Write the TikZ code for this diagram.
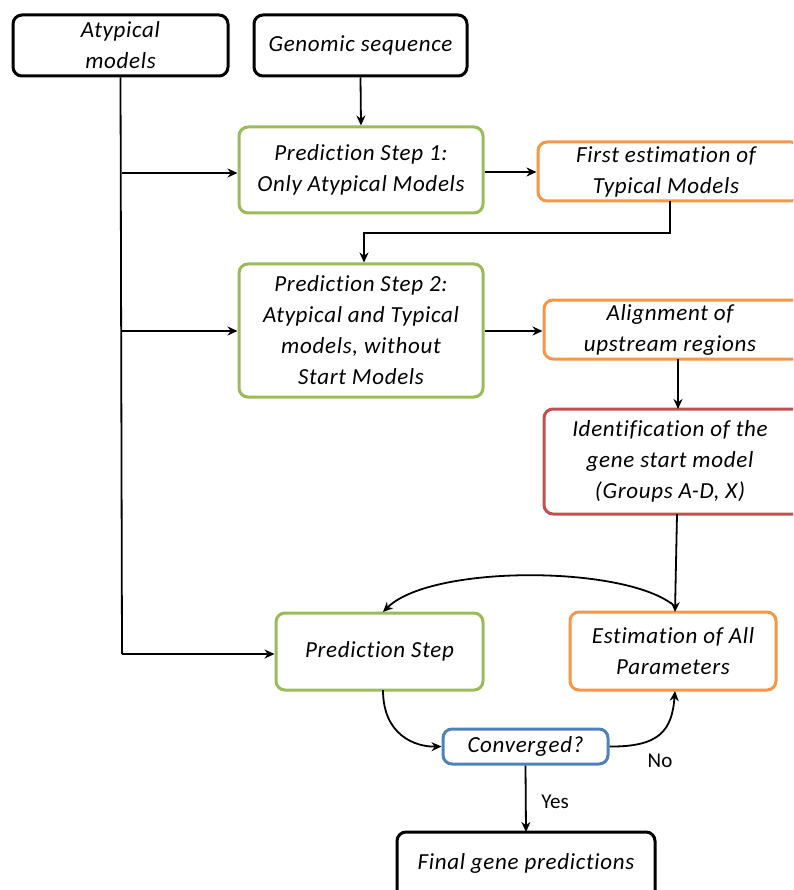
\documentclass[tikz,border=0pt]{standalone}
\usepackage{fontspec}
\setmainfont{Carlito}[Ligatures=NoCommon]
\usetikzlibrary{arrows.meta}
\definecolor{cgreen}{HTML}{9BBB59}
\definecolor{corange}{HTML}{F79646}
\definecolor{cred}{HTML}{C0504D}
\definecolor{cblue}{HTML}{4F81BD}
\newfontfamily\boxfont{Carlito}[Ligatures=NoCommon, LetterSpace=3]
\tikzset{
  box/.style={draw, line width=3pt, rounded corners=9pt, align=center, inner sep=0pt,
     font=\boxfont\fontsize{23}{31}\selectfont\itshape},
  blk/.style={box, draw=black},
  grn/.style={box, draw=cgreen},
  org/.style={box, draw=corange},
  rd/.style={box, draw=cred},
  blu/.style={box, draw=cblue},
  conn/.style={line width=1.8pt, -{Stealth[length=10pt,width=9pt]}},
  lin/.style={line width=1.8pt},
  lbl/.style={font=\fontsize{21}{22}\selectfont}
}
\begin{document}
\begin{tikzpicture}[x=1pt,y=-1pt]
\useasboundingbox (0,0) rectangle (793,890);
\begin{scope}
\clip (0,0) rectangle (793,890);
\node[blk, minimum width=215pt, minimum height=61pt] (atyp) at (120.5,45.5) {Atypical\\models};
\node[blk, minimum width=213pt, minimum height=61pt] (gen) at (360.5,45.5) {Genomic sequence};
\node[grn, minimum width=244pt, minimum height=86pt] (ps1) at (361,170) {Prediction Step 1:\\Only Atypical Models};
\node[org, minimum width=262pt, minimum height=59pt] (fe) at (669,171.5) {\hspace*{-6pt}First estimation of\\\hspace*{-6pt}Typical Models};
\node[grn, minimum width=244pt, minimum height=133pt] (ps2) at (361,330.5) {Prediction Step 2:\\Atypical and Typical\\models, without\\Start Models};
\node[org, minimum width=262pt, minimum height=59pt] (al) at (675,329.5) {\hspace*{-10pt}Alignment of\\\hspace*{-10pt}upstream regions};
\node[rd, minimum width=262pt, minimum height=105pt] (id) at (675,461.5) {\hspace*{-10pt}Identification of the\\\hspace*{-10pt}gene start model\\\hspace*{-10pt}(Groups A-D, X)};
\node[grn, minimum width=207pt, minimum height=77pt] (ps) at (379.5,651.5) {Prediction Step};
\node[org, minimum width=206pt, minimum height=78pt] (est) at (673,651) {Estimation of All\\Parameters};
\node[blu, minimum width=165pt, minimum height=35pt] (conv) at (525.5,746.5) {Converged?};
\node[blk, minimum width=258pt, minimum height=80pt] (fin) at (526,872) {};
\node[font=\boxfont\fontsize{23}{31}\selectfont\itshape] (fintxt) at (526,863) {Final gene predictions};
\end{scope}
\coordinate (a1) at (122,173);
\coordinate (a2) at (122,331);
\coordinate (a3) at (122,654);
\draw[lin] (atyp.south) -- (a3);
\draw[conn] (a1) -- (a1 -| ps1.west);
\draw[conn] (a2) -- (a2 -| ps2.west);
\draw[conn] (a3) -- (a3 -| ps.west);
\draw[conn] (gen.south) -- (ps1.north);
\draw[conn] (ps1.east |- 0,172) -- (fe.west |- 0,172);
\coordinate (c1) at (670,233);
\coordinate (c2) at (364,233);
\draw[conn] (670,201) -- (c1) -- (c2) -- (ps2.north -| c2);
\draw[conn] (ps2.east |- 0,331) -- (al.west |- 0,331);
\draw[conn] (678,359) -- (678,409);
\draw[conn] (677,514) -- (675,612);
\draw[conn] (672,604) .. controls (620,565) and (430,565) .. (383,612);
\draw[conn] (383,690) .. controls (383,735) and (415,747) .. (conv.west);
\draw[conn] (conv.east) .. controls (660,747) and (672,730) .. (675,691);
\draw[conn] (conv.south) -- (526,832);
\node[lbl] (no) at (660,761) {No};
\node[lbl] (yes) at (555,802) {Yes};
\end{tikzpicture}
\end{document}
